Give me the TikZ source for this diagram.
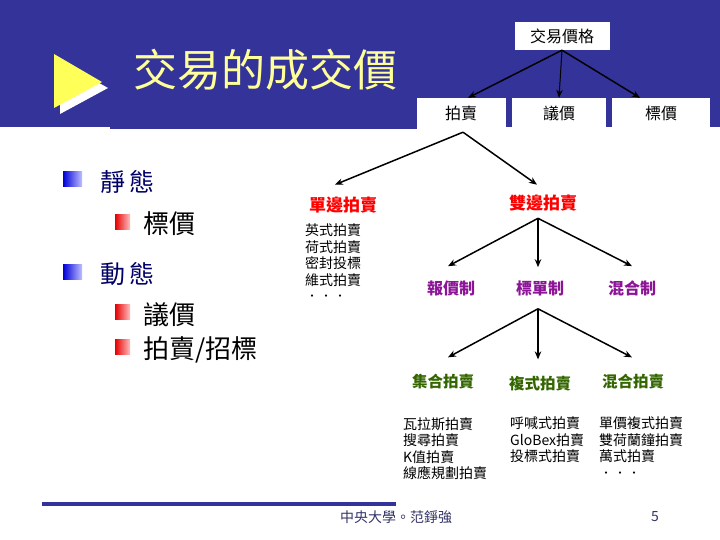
\documentclass[tikz,border=0pt]{standalone}
\usepackage{fontspec}
\setmainfont{Noto Sans CJK TC}
\usetikzlibrary{arrows.meta, positioning, calc}
\definecolor{bandblue}{RGB}{51, 51, 153}
\definecolor{titleyellow}{RGB}{255, 255, 153}
\definecolor{pointyellow}{RGB}{255, 255, 90}
\definecolor{labelred}{RGB}{255, 0, 0}
\definecolor{labelpurple}{RGB}{140, 20, 150}
\definecolor{labelgreen}{RGB}{51, 102, 0}
\definecolor{navytext}{RGB}{0, 0, 102}
\definecolor{footnavy}{RGB}{51, 51, 102}

\begin{document}
\begin{tikzpicture}[
    x=1bp, y=-1bp,
    topbox/.style={rectangle, fill=white, inner sep=0pt, font=\fontsize{16bp}{18bp}\selectfont},
    redlabel/.style={text=labelred, inner sep=0pt, font=\fontsize{17bp}{19bp}\selectfont\bfseries},
    purplelabel/.style={text=labelpurple, inner sep=0pt, font=\fontsize{16bp}{18bp}\selectfont\bfseries},
    greenlabel/.style={text=labelgreen, inner sep=0pt, font=\fontsize{15.5bp}{18bp}\selectfont\bfseries},
    listtext/.style={anchor=north west, align=left, inner sep=0pt, font=\fontsize{14bp}{16.5bp}\selectfont},
    arr/.style={-{Stealth[length=8bp, width=6.5bp]}, line width=1.5bp},
    bigbullet/.style={left color=blue!85!black, right color=blue!25},
    smallbullet/.style={left color=red!90!black, right color=red!25},
    lvlone/.style={anchor=west, inner sep=0pt, text=navytext, font=\fontsize{25bp}{28bp}\selectfont},
    lvltwo/.style={anchor=west, inner sep=0pt, font=\fontsize{26bp}{28bp}\selectfont}
]
    \useasboundingbox (0,0) rectangle (720,540);

    % Header band
    \fill[bandblue] (0,0) rectangle (720,127);
    \fill[bandblue] (110,127) rectangle (417,129);
    \fill[white] (60,61) -- (108,88) -- (60,114) -- cycle;
    \fill[pointyellow] (54,54) -- (102,82) -- (54,108) -- cycle;
    \node[anchor=west, inner sep=0pt, text=titleyellow, font=\fontsize{44bp}{48bp}\selectfont] (title) at (133,70) {交易的成交價};

    % Footer
    \fill[bandblue] (42,502) rectangle (396,506);
    \node[inner sep=0pt, text=footnavy, font=\fontsize{14bp}{16bp}\selectfont] (foot) at (396,517) {中央大學。范錚強};
    \node[inner sep=0pt, text=footnavy, font=\fontsize{14bp}{16bp}\selectfont] (page) at (655,517) {5};

    % Left bullets
    \shade[bigbullet] (63,172) rectangle (82,187);
    \node[lvlone] (static) at (100,182) {靜\hspace{4bp}態};
    \shade[smallbullet] (115,215) rectangle (130,230);
    \node[lvltwo] (stprice) at (143,224) {標價};
    \shade[bigbullet] (63,264) rectangle (82,279);
    \node[lvlone] (dynamic) at (100,274) {動\hspace{4bp}態};
    \shade[smallbullet] (115,304) rectangle (130,319);
    \node[lvltwo] (nego) at (143,315) {議價};
    \shade[smallbullet] (115,339) rectangle (130,354);
    \node[lvltwo] (tender) at (143,350) {拍賣/招標};

    % Price tree
    \node[topbox, minimum width=95bp, minimum height=28bp] (price) at (562,36) {交易價格};
    \node[topbox, minimum width=89bp, minimum height=30bp] (auction) at (461,113) {拍賣};
    \node[topbox, minimum width=94bp, minimum height=30bp] (bargain) at (559,113) {議價};
    \node[topbox, minimum width=98bp, minimum height=30bp] (posted) at (661,113) {標價};

    \draw[arr] (price.south) -- ($(auction.north)+(7,0)$);
    \draw[arr, line width=1bp] (price.south) -- (bargain.north);
    \draw[arr] (price.south) -- ($(posted.north)+(-21,0)$);

    % Auction types
    \node[redlabel] (single) at (343,205) {單邊拍賣};
    \node[redlabel] (double) at (543,203) {雙邊拍賣};
    \coordinate (auctop) at ($(auction.south)+(2,4)$);
    \draw[arr] (auctop) -- ($(single.north)+(-8,-12)$);
    \draw[arr] (auctop) -- ($(double.north)+(-6,-10)$);

    \node[listtext] (singlelist) at (305,224) {英式拍賣\\荷式拍賣\\密封投標\\維式拍賣\\．．．};

    % Double auction mechanisms
    \node[purplelabel] (quote) at (451,288) {報價制};
    \node[purplelabel] (sealed) at (540,288) {標單制};
    \node[purplelabel] (mixed) at (632,288) {混合制};
    \coordinate (dbltop) at ($(double.south)+(-5,7)$);
    \draw[arr] (dbltop) -- ($(quote.north)+(-3,-14)$);
    \draw[arr] (dbltop) -- ($(sealed.north)+(-2,-13)$);
    \draw[arr] (dbltop) -- ($(mixed.north)+(0,-14)$);

    % Sealed bid auctions
    \node[greenlabel] (pool) at (443,382) {集合拍賣};
    \node[greenlabel] (twosided) at (540,384) {複式拍賣};
    \node[greenlabel] (hybrid) at (633,382) {混合拍賣};
    \coordinate (sealtop) at ($(sealed.south)+(-2,13)$);
    \draw[arr] (sealtop) -- ($(pool.north)+(5,-17)$);
    \draw[arr] (sealtop) -- ($(twosided.north)+(-2,-17)$);
    \draw[arr] (sealtop) -- ($(hybrid.north)+(-1,-17)$);

    \node[listtext] (poollist) at (403,417) {瓦拉斯拍賣\\搜尋拍賣\\K值拍賣\\線應規劃拍賣};
    \node[listtext] (twolist) at (510,417) {呼喊式拍賣\\GloBex拍賣\\投標式拍賣};
    \node[listtext] (hybridlist) at (599,417) {單價複式拍賣\\雙荷蘭鐘拍賣\\萬式拍賣\\．．．};
\end{tikzpicture}
\end{document}
